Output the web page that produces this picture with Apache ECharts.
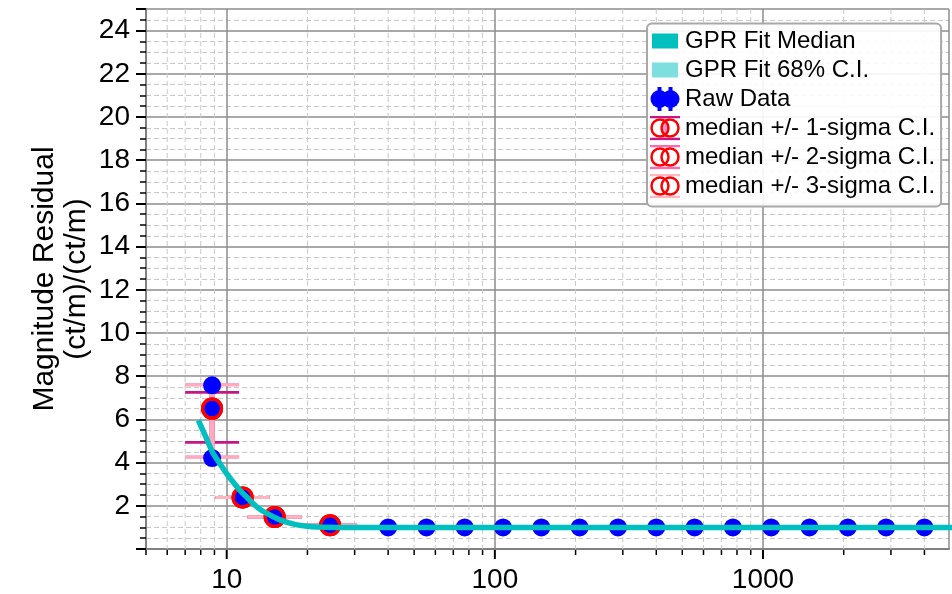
<!DOCTYPE html>
<html><head><meta charset="utf-8">
<script src="https://cdn.jsdelivr.net/npm/echarts@6/dist/echarts.min.js"></script>
<style>html,body{margin:0;padding:0;background:#fff}#c{width:952px;height:594px}</style>
</head><body><div id="c"></div>
<script>
// ---------- data ----------
const rawX = [8.82, 8.82, 8.82, 11.46, 15.1, 24.3,
  40, 55.6, 77.2, 107.3, 149.1, 207.2, 287.9, 400, 555.8, 772.3, 1073, 1491, 2072, 2879, 4000];
const rawY = [7.58, 6.5, 4.21, 2.39, 1.48, 1.1,
  1.0, 1.0, 1.0, 1.0, 1.0, 1.0, 1.0, 1.0, 1.0, 1.0, 1.0, 1.0, 1.0, 1.0, 1.0];

const medX = [8.82, 11.46, 15.1, 24.3];
const medY = [6.5, 2.39, 1.48, 1.1];
const sig1Lo = [4.94, 2.39, 1.48, 1.1];
const sig1Hi = [7.25, 2.39, 1.48, 1.1];
const sig2Lo = [4.26, 2.39, 1.48, 1.1];
const sig2Hi = [7.6, 2.39, 1.48, 1.1];
const sig3Lo = [4.26, 2.39, 1.48, 1.1];
const sig3Hi = [7.6, 2.39, 1.48, 1.1];

const fitX = [7.84, 8.39, 8.88, 9.4, 9.95, 10.52, 11.14, 11.8, 12.48, 13.2, 14.0, 15.7, 18.1, 20.8, 26.1, 34.7, 60, 200, 1000, 6000];
const fitY = [5.96, 5.14, 4.45, 3.98, 3.52, 3.13, 2.75, 2.44, 2.13, 1.87, 1.67, 1.36, 1.13, 1.03, 1.0, 1.0, 1.0, 1.0, 1.0, 1.0];
const fitLo = [5.9, 5.08, 4.4, 3.93, 3.48, 3.09, 2.72, 2.41, 2.1, 1.85, 1.65, 1.34, 1.11, 1.01, 0.98, 0.98, 0.98, 0.98, 0.98, 0.98];
const fitHi = [6.02, 5.2, 4.5, 4.03, 3.56, 3.17, 2.78, 2.47, 2.16, 1.89, 1.69, 1.38, 1.15, 1.05, 1.02, 1.02, 1.02, 1.02, 1.02, 1.02];

const xMin = 5, xMax = 4940;
const yMin = 0, yMax = 25, yInterval = 2;
const xMajorTicks = [10, 100, 1000];
const xMinorTicks = [5, 6, 7, 8, 9, 20, 30, 40, 50, 60, 70, 80, 90,
  200, 300, 400, 500, 600, 700, 800, 900, 2000, 3000, 4000];

const names = {
  fit: 'GPR Fit Median', ci: 'GPR Fit 68% C.I.', raw: 'Raw Data',
  s1: 'median +/- 1-sigma C.I.', s2: 'median +/- 2-sigma C.I.', s3: 'median +/- 3-sigma C.I.'
};
const yName = 'Magnitude Residual\n(ct/m)/(ct/m)';

// ---------- styles ----------
const FONT = 'Liberation Sans, Arial, Helvetica, sans-serif';
const C_FIT = '#00bfbf', C_CI = '#7fdfdf', C_RAW = '#0000ff', C_MED = '#ff0000';
const C_S1 = '#c71585', C_S2 = '#ff69b4', C_S3 = 'rgba(255,182,193,0.85)';

function svgIcon(body) {
  return 'image://data:image/svg+xml;charset=utf-8,' + encodeURIComponent(
    '<svg xmlns="http://www.w3.org/2000/svg" width="30" height="25" viewBox="0 0 30 25">' + body + '</svg>');
}
function sigIcon(col, extra) {
  return svgIcon((extra || '') +
    '<line x1="0" y1="1.5" x2="30" y2="1.5" stroke="' + col + '" stroke-width="2.5"/>' +
    '<line x1="0" y1="23.5" x2="30" y2="23.5" stroke="' + col + '" stroke-width="2.5"/>' +
    '<circle cx="10" cy="12.5" r="8.5" fill="none" stroke="#ff0000" stroke-width="2.5"/>' +
    '<circle cx="20" cy="12.5" r="8.5" fill="none" stroke="#ff0000" stroke-width="2.5"/>');
}

function errSeries(name, lo, hi, color, capW) {
  return {
    type: 'custom', name: name, z: 2, silent: true,
    data: medX.map((x, i) => [x, lo[i], hi[i]]),
    encode: { x: 0, y: [1, 2] },
    renderItem: function (params, api) {
      const x = api.value(0);
      const a = api.coord([x, api.value(1)]);
      const b = api.coord([x, api.value(2)]);
      const hw = 27;
      return {
        type: 'group', children: [
          { type: 'line', shape: { x1: a[0], y1: a[1], x2: b[0], y2: b[1] }, style: { stroke: color, lineWidth: 5 } },
          { type: 'line', shape: { x1: a[0] - hw, y1: a[1], x2: a[0] + hw, y2: a[1] }, style: { stroke: color, lineWidth: capW } },
          { type: 'line', shape: { x1: b[0] - hw, y1: b[1], x2: b[0] + hw, y2: b[1] }, style: { stroke: color, lineWidth: capW } }
        ]
      };
    }
  };
}
function ringSeries(name) {
  return {
    type: 'scatter', name: name, z: 4, silent: true,
    data: medX.map((x, i) => [x, medY[i]]),
    symbol: 'circle', symbolSize: 19,
    itemStyle: { color: 'none', borderColor: C_MED, borderWidth: 3, opacity: 1 }
  };
}

const chart = echarts.init(document.getElementById('c'), null, { renderer: 'canvas' });
chart.setOption({
  animation: false,
  backgroundColor: '#fff',
  textStyle: { fontFamily: FONT },
  grid: { left: 146, top: 9, width: 810, height: 540, containLabel: false },
  xAxis: {
    type: 'log', logBase: 10, min: xMin, max: xMax,
    axisLine: { show: true, lineStyle: { color: '#808080', width: 2 } },
    axisTick: { show: false },
    axisLabel: {
      fontSize: 28, color: '#000', margin: 17, fontFamily: FONT,
      formatter: function (v) {
        return xMajorTicks.some(t => Math.abs(t - v) / t < 1e-6) ? String(Math.round(v)) : '';
      }
    },
    splitLine: { show: true, lineStyle: { color: '#8c8c8c', width: 1.5 } }
  },
  yAxis: {
    type: 'value', min: yMin, max: yMax, interval: yInterval,
    name: yName, nameLocation: 'middle', nameRotate: 90, nameGap: 53, nameMoveOverlap: false,
    nameTextStyle: { fontSize: 30, color: '#000', lineHeight: 32, fontFamily: FONT },
    axisLine: { show: true, lineStyle: { color: '#808080', width: 2 } },
    axisTick: { show: true, length: 10, lineStyle: { color: '#000', width: 2 } },
    minorTick: { show: true, splitNumber: 4, length: 6, lineStyle: { color: '#000', width: 1.5 } },
    axisLabel: {
      fontSize: 28, color: '#000', margin: 16, fontFamily: FONT,
      formatter: function (v) { return (v > yMin && v < yMax && v % yInterval === 0) ? String(v) : ''; }
    },
    splitLine: { show: true, lineStyle: { color: '#8c8c8c', width: 1.5 } },
    minorSplitLine: { show: true, lineStyle: { color: '#c8c8c8', width: 1, type: [5, 3] } }
  },
  legend: {
    orient: 'vertical', left: 647, top: 23.5, z: 20,
    padding: [5, 6, 8, 3], itemGap: 4, itemWidth: 30, itemHeight: 25, itemTextGap: 1,
    backgroundColor: 'rgba(255,255,255,0.9)', borderColor: '#a8a8a8', borderWidth: 2, borderRadius: 5,
    textStyle: { fontSize: 24, color: '#000', fontFamily: FONT },
    selectedMode: false,
    data: [
      { name: names.fit, icon: svgIcon('<rect x="2" y="5" width="26" height="15" fill="' + C_FIT + '"/>') },
      { name: names.ci, icon: svgIcon('<rect x="2" y="5" width="26" height="15" fill="' + C_CI + '"/>') },
      { name: names.raw, icon: svgIcon(
        '<rect x="7.5" y="0.5" width="4" height="24" fill="#0000ff"/><rect x="18.5" y="0.5" width="4" height="24" fill="#0000ff"/>' +
        '<circle cx="9.5" cy="12.5" r="9" fill="#0000ff"/><circle cx="20.5" cy="12.5" r="9" fill="#0000ff"/>') },
      { name: names.s1, icon: sigIcon(C_S1, '<rect x="12" y="3" width="6" height="19" fill="#c71585" opacity="0.45"/>') },
      { name: names.s2, icon: sigIcon(C_S2) },
      { name: names.s3, icon: sigIcon('#ffb6c1') }
    ]
  },
  series: [
    { // x minor ticks + minor vertical grid lines
      type: 'custom', z: 1, silent: true, clip: false,
      data: xMinorTicks.map(v => [v, yMin]),
      renderItem: function (params, api) {
        const v = api.value(0);
        const b = api.coord([v, yMin]);
        const t = api.coord([v, yMax]);
        const ch = [{ type: 'line', shape: { x1: b[0], y1: b[1] + 1, x2: b[0], y2: b[1] + 6 }, style: { stroke: '#000', lineWidth: 1.5 } }];
        if (v !== xMin) ch.push({ type: 'line', shape: { x1: b[0], y1: t[1], x2: b[0], y2: b[1] }, style: { stroke: '#c8c8c8', lineWidth: 1, lineDash: [5, 3] } });
        return { type: 'group', children: ch };
      }
    },
    { // x major ticks
      type: 'custom', z: 1, silent: true, clip: false,
      data: xMajorTicks.map(v => [v, yMin]),
      renderItem: function (params, api) {
        const b = api.coord([api.value(0), yMin]);
        return { type: 'line', shape: { x1: b[0], y1: b[1] + 1, x2: b[0], y2: b[1] + 10 }, style: { stroke: '#000', lineWidth: 2 } };
      }
    },
    errSeries(names.s1, sig1Lo, sig1Hi, C_S1, 2.8),
    errSeries(names.s2, sig2Lo, sig2Hi, C_S2, 3),
    errSeries(names.s3, sig3Lo, sig3Hi, C_S3, 3),
    {
      type: 'scatter', name: names.raw, z: 3, silent: true,
      data: rawX.map((x, i) => [x, rawY[i]]),
      symbol: 'circle', symbolSize: 18, itemStyle: { color: C_RAW, opacity: 1 }
    },
    ringSeries(names.s1), ringSeries(names.s2), ringSeries(names.s3),
    { // 68% C.I. band, drawn segment by segment
      type: 'custom', name: names.ci, z: 5, silent: true,
      itemStyle: { color: C_CI },
      data: fitX.slice(0, -1).map((x, i) => [x, fitLo[i], fitHi[i], fitX[i + 1], fitLo[i + 1], fitHi[i + 1]]),
      encode: { x: [0, 3], y: [1, 2, 4, 5] },
      renderItem: function (params, api) {
        const p1 = api.coord([api.value(0), api.value(1)]);
        const p2 = api.coord([api.value(0), api.value(2)]);
        const p3 = api.coord([api.value(3), api.value(5)]);
        const p4 = api.coord([api.value(3), api.value(4)]);
        return { type: 'polygon', shape: { points: [p1, p2, p3, p4] }, style: { fill: C_CI, opacity: 0.6 } };
      }
    },
    {
      type: 'line', name: names.fit, z: 6, silent: true, symbol: 'none', smooth: 0.3,
      data: fitX.map((x, i) => [x, fitY[i]]),
      itemStyle: { color: C_FIT }, lineStyle: { color: C_FIT, width: 5.5 }
    }
  ]
});
</script>
</body></html>
